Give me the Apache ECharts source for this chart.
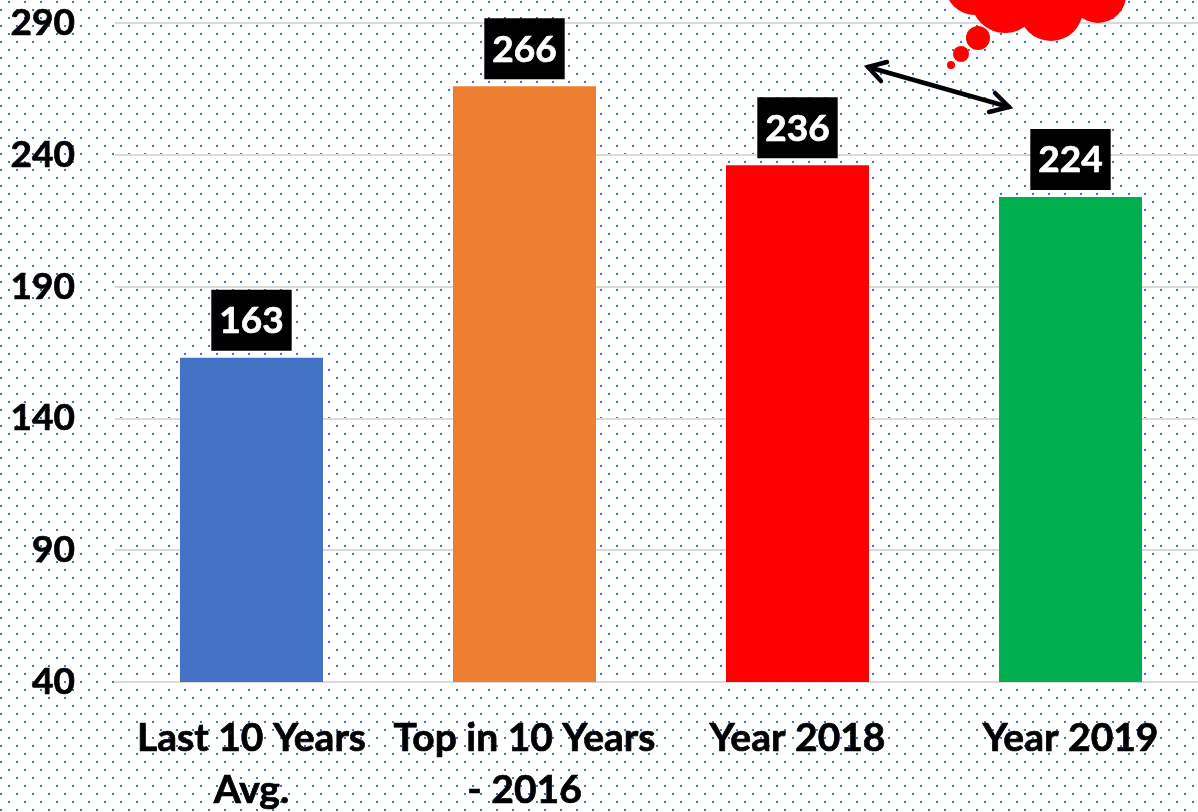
<!DOCTYPE html>
<html><head><meta charset="utf-8">
<style>html,body{margin:0;padding:0;background:#fff}#c{width:1198px;height:812px}</style>
<script src="https://cdn.jsdelivr.net/npm/echarts@6/dist/echarts.min.js"></script>
</head><body><div id="c"></div>
<script>
const categories = ["Last 10 Years\nAvg.", "Top in 10 Years\n- 2016", "Year 2018", "Year 2019"];
const values = [163, 266, 236, 224];
const barColors = ["#4472C4", "#ED7D31", "#FF0000", "#00B050"];
const yTicks = [40, 90, 140, 190, 240, 290];
const FONT = 'Lato, "Open Sans", sans-serif';

const pat = document.createElement('canvas');
pat.width = 16; pat.height = 16;
const p = pat.getContext('2d');
p.fillStyle = '#fff'; p.fillRect(0, 0, 16, 16);
p.fillStyle = '#4472C4';
p.fillRect(8, 1, 2, 2);
p.fillRect(0, 9, 2, 2);

const cloud = [[975,-15,30],[1005,-1,34],[1051,9,32],[1098,-5,28],[1040,-30,50],[978,38,12],[961,54,8],[951,65,4]];
const graphics = cloud.map(c => ({type:'circle', z:20, shape:{cx:c[0], cy:c[1], r:c[2]}, style:{fill:'#FF0000'}, silent:true}));
const arrowStyle = {stroke:'#000', lineWidth:4.5, fill:null, lineCap:'round', lineJoin:'miter'};
graphics.push({type:'line', z:20, shape:{x1:868, y1:67, x2:1009, y2:107}, style:arrowStyle, silent:true});
graphics.push({type:'polyline', z:20, shape:{points:[[887,62],[868,67],[881,81]]}, style:arrowStyle, silent:true});
graphics.push({type:'polyline', z:20, shape:{points:[[995,93],[1009,107],[989,112]]}, style:arrowStyle, silent:true});

const chart = echarts.init(document.getElementById('c'), null, {renderer:'canvas'});
chart.setOption({
  animation:false,
  backgroundColor:{image:pat, repeat:'repeat'},
  grid:{left:115, right:-9, top:23, bottom:130, outerBoundsMode:'none'},
  xAxis:{
    type:'category', data:categories,
    axisLine:{show:true, lineStyle:{color:'#D9D9D9', width:2}},
    axisTick:{show:false},
    axisLabel:{interval:0, margin:30, color:'#000', fontFamily:FONT, fontWeight:'bold', fontSize:39, lineHeight:52,
      textBorderColor:'#000', textBorderWidth:0.7}
  },
  yAxis:{
    type:'value', min:40, max:290,
    axisLine:{show:false},
    axisTick:{show:false, customValues:yTicks},
    axisLabel:{customValues:yTicks, margin:40, color:'#000', fontFamily:FONT, fontWeight:'bold', fontSize:37,
      textBorderColor:'#000', textBorderWidth:0.7},
    splitLine:{show:true, lineStyle:{color:'#D9D9D9', width:2}}
  },
  series:[{
    type:'bar', barWidth:143,
    data:values.map((v,i)=>({value:v, itemStyle:{color:barColors[i]}})),
    label:{show:true, position:'top', distance:7, color:'#fff', fontFamily:FONT, fontWeight:'bold', fontSize:37,
      textBorderColor:'#fff', textBorderWidth:0.7,
      backgroundColor:'#000', padding:[13,8,11,8]}
  }],
  graphic:graphics
});
</script></body></html>
